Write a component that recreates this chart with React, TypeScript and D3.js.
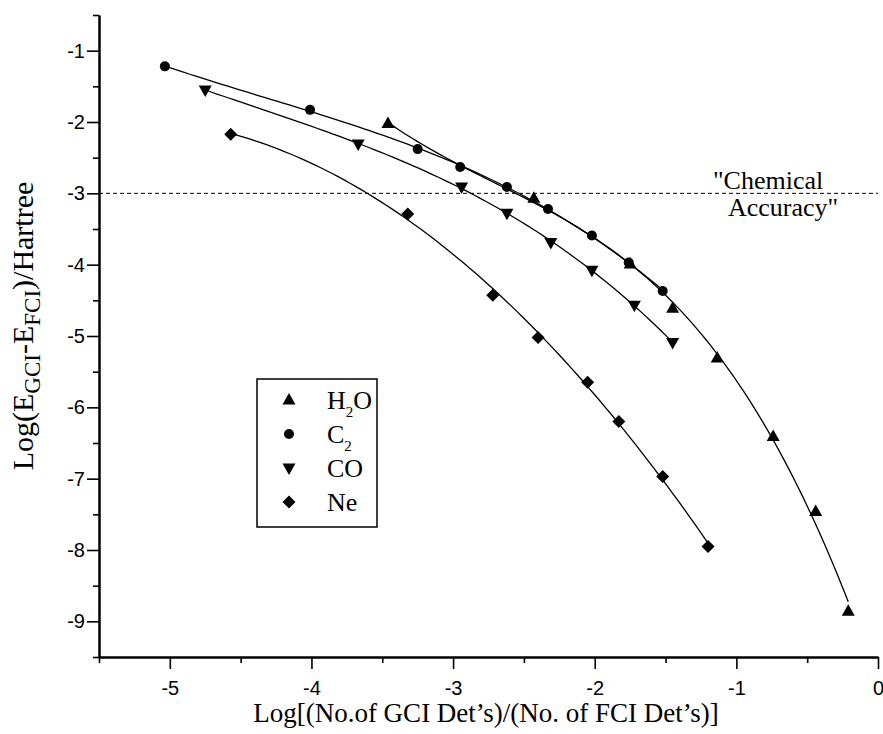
import React, { useEffect, useRef } from "react"
import * as d3 from "d3"

const WIDTH = 883
const HEIGHT = 734
const PLOT = { left: 99, right: 878, top: 15, bottom: 657 }

const X_DOMAIN = [-5.5, 0]
const Y_DOMAIN = [-9.5, -0.5]
const X_TICKS = [-5, -4, -3, -2, -1, 0]
const X_MINOR = [-5.5, -4.5, -3.5, -2.5, -1.5, -0.5]
const Y_TICKS = [-1, -2, -3, -4, -5, -6, -7, -8, -9]
const Y_MINOR = [-0.5, -1.5, -2.5, -3.5, -4.5, -5.5, -6.5, -7.5, -8.5, -9.5]
const CHEM_ACCURACY = -3

const h2oX = [-3.46, -2.43, -1.75, -1.45, -1.135, -0.74, -0.44, -0.21]
const h2oY = [-2.02, -3.07, -3.99, -4.61, -5.31, -6.41, -7.46, -8.86]
const c2X = [-5.035, -4.01, -3.25, -2.95, -2.62, -2.33, -2.02, -1.76, -1.52]
const c2Y = [-1.22, -1.83, -2.38, -2.63, -2.91, -3.22, -3.59, -3.97, -4.37]
const coX = [-4.75, -3.67, -2.94, -2.62, -2.31, -2.02, -1.72, -1.45]
const coY = [-1.55, -2.31, -2.91, -3.28, -3.69, -4.08, -4.57, -5.09]
const neX = [-4.57, -3.32, -2.72, -2.4, -2.05, -1.83, -1.52, -1.2]
const neY = [-2.17, -3.29, -4.43, -5.02, -5.65, -6.2, -6.97, -7.95]

const SERIES = [
  { name: "H2O", main: "H", sub: "2", tail: "O", xs: h2oX, ys: h2oY, symbol: "up" },
  { name: "C2", main: "C", sub: "2", tail: "", xs: c2X, ys: c2Y, symbol: "circle" },
  { name: "CO", main: "CO", sub: "", tail: "", xs: coX, ys: coY, symbol: "down" },
  { name: "Ne", main: "Ne", sub: "", tail: "", xs: neX, ys: neY, symbol: "diamond" },
]

const SANS = "'Liberation Sans', Arial, sans-serif"
const SERIF = "'Liberation Serif', 'Times New Roman', serif"

// least-squares polynomial fit, like the fitted lines in the original plot
const polyFit = (xs, ys, deg) => {
  const n = deg + 1
  const A = Array.from({ length: n }, () => new Array(n + 1).fill(0))
  xs.forEach((xv, k) => {
    for (let i = 0; i < n; i++) {
      for (let j = 0; j < n; j++) A[i][j] += Math.pow(xv, i + j)
      A[i][n] += ys[k] * Math.pow(xv, i)
    }
  })
  for (let c = 0; c < n; c++) {
    let p = c
    for (let r = c + 1; r < n; r++) if (Math.abs(A[r][c]) > Math.abs(A[p][c])) p = r
    ;[A[c], A[p]] = [A[p], A[c]]
    for (let r = 0; r < n; r++) {
      if (r === c) continue
      const f = A[r][c] / A[c][c]
      for (let k = c; k <= n; k++) A[r][k] -= f * A[c][k]
    }
  }
  const coef = A.map((row, i) => row[n] / row[i])
  return xv => coef.reduce((s, c, i) => s + c * Math.pow(xv, i), 0)
}

const drawMarker = (g, kind, cx, cy) => {
  if (kind === "circle") {
    g.append("circle").attr("cx", cx).attr("cy", cy).attr("r", 5).attr("fill", "#000")
    return
  }
  let pts
  if (kind === "up") pts = [[0, -7], [6.5, 4.5], [-6.5, 4.5]]
  else if (kind === "down") pts = [[0, 7], [6.5, -4.5], [-6.5, -4.5]]
  else pts = [[0, -6.5], [6.5, 0], [0, 6.5], [-6.5, 0]]
  g.append("polygon")
    .attr("points", pts.map(p => `${cx + p[0]},${cy + p[1]}`).join(" "))
    .attr("fill", "#000")
}

export default function App() {
  const svgRef = useRef(null)

  useEffect(() => {
    const svg = d3.select(svgRef.current)
    svg.selectAll("*").remove()

    const x = d3.scaleLinear().domain(X_DOMAIN).range([PLOT.left, PLOT.right])
    const y = d3.scaleLinear().domain(Y_DOMAIN).range([PLOT.bottom, PLOT.top])

    // dashed "chemical accuracy" line
    svg
      .append("line")
      .attr("x1", x(X_DOMAIN[0]))
      .attr("x2", x(X_DOMAIN[1]))
      .attr("y1", y(CHEM_ACCURACY))
      .attr("y2", y(CHEM_ACCURACY))
      .attr("stroke", "#000")
      .attr("stroke-width", 1)
      .attr("stroke-dasharray", "4,3")

    const chem = svg.append("g").attr("font-family", SERIF).attr("font-size", 26)
    chem.append("text").attr("x", 713).attr("y", 189).text('"Chemical')
    chem.append("text").attr("x", 728).attr("y", 216).text('Accuracy"')

    // axes
    const styleAxis = g => {
      g.selectAll(".domain").attr("stroke", "#000").attr("stroke-width", 2)
      g.selectAll(".tick line").attr("stroke", "#000").attr("stroke-width", 1.6)
      g.selectAll(".tick text")
        .attr("fill", "#000")
        .attr("font-family", SANS)
        .attr("font-size", 20)
    }

    const yAxis = svg
      .append("g")
      .attr("transform", `translate(${PLOT.left},0)`)
      .call(d3.axisLeft(y).tickValues(Y_TICKS).tickSize(12).tickSizeOuter(0).tickPadding(2))
    styleAxis(yAxis)
    const yMinor = svg
      .append("g")
      .attr("transform", `translate(${PLOT.left},0)`)
      .call(d3.axisLeft(y).tickValues(Y_MINOR).tickSize(6).tickSizeOuter(0).tickFormat(() => ""))
    styleAxis(yMinor)

    const xAxis = svg
      .append("g")
      .attr("transform", `translate(0,${PLOT.bottom})`)
      .call(
        d3
          .axisBottom(x)
          .tickValues(X_TICKS)
          .tickSize(12)
          .tickSizeOuter(0)
          .tickPadding(12)
          .tickFormat(d3.format("d")),
      )
    styleAxis(xAxis)
    const xMinor = svg
      .append("g")
      .attr("transform", `translate(0,${PLOT.bottom})`)
      .call(d3.axisBottom(x).tickValues(X_MINOR).tickSize(6).tickSizeOuter(0).tickFormat(() => ""))
    styleAxis(xMinor)
    // minus signs as plain hyphens like the original
    svg.selectAll(".tick text").text(function () {
      return d3.select(this).text().replace("\u2212", "-")
    })

    // fitted curves + markers
    const line = d3
      .line()
      .x(d => x(d[0]))
      .y(d => y(d[1]))
      .curve(d3.curveLinear)

    SERIES.forEach(s => {
      const pts = s.xs.map((v, i) => [v, s.ys[i]])
      const fit = polyFit(s.xs, s.ys, 3)
      const [lo, hi] = d3.extent(s.xs)
      const fitPts = d3.range(0, 81).map(i => {
        const xv = lo + ((hi - lo) * i) / 80
        return [xv, fit(xv)]
      })
      svg
        .append("path")
        .attr("d", line(fitPts))
        .attr("fill", "none")
        .attr("stroke", "#000")
        .attr("stroke-width", 1.3)
      const mg = svg.append("g")
      pts.forEach(p => drawMarker(mg, s.symbol, x(p[0]), y(p[1])))
    })

    // legend
    const legend = svg.append("g")
    legend
      .append("rect")
      .attr("x", 257)
      .attr("y", 379)
      .attr("width", 120)
      .attr("height", 148)
      .attr("fill", "#fff")
      .attr("stroke", "#000")
      .attr("stroke-width", 1.5)
    SERIES.forEach((s, i) => {
      const cy = 400 + i * 34
      drawMarker(legend, s.symbol, 289, cy)
      const t = legend
        .append("text")
        .attr("x", 327)
        .attr("y", cy + 9)
        .attr("font-family", SERIF)
        .attr("font-size", 26)
      t.append("tspan").text(s.main)
      if (s.sub) {
        t.append("tspan").attr("font-size", 15).attr("dy", 8).text(s.sub)
        if (s.tail) t.append("tspan").attr("dy", -8).text(s.tail)
      }
    })

    // axis titles
    svg
      .append("text")
      .attr("x", 486)
      .attr("y", 722)
      .attr("text-anchor", "middle")
      .attr("font-family", SERIF)
      .attr("font-size", 27)
      .text("Log[(No.of GCI Det\u2019s)/(No. of FCI Det\u2019s)]")

    const yt = svg
      .append("text")
      .attr("transform", "translate(33,326) rotate(-90)")
      .attr("text-anchor", "middle")
      .attr("font-family", SERIF)
      .attr("font-size", 30)
    yt.append("tspan").text("Log(E")
    yt.append("tspan").attr("font-size", 23).attr("dy", 7).text("GCI")
    yt.append("tspan").attr("dy", -7).text("-E")
    yt.append("tspan").attr("font-size", 23).attr("dy", 7).text("FCI")
    yt.append("tspan").attr("dy", -7).text(")/Hartree")
  }, [])

  return (
    <svg
      ref={svgRef}
      width={WIDTH}
      height={HEIGHT}
      style={{ position: "absolute", left: 0, top: 0, display: "block", background: "#fff" }}
    />
  )
}
